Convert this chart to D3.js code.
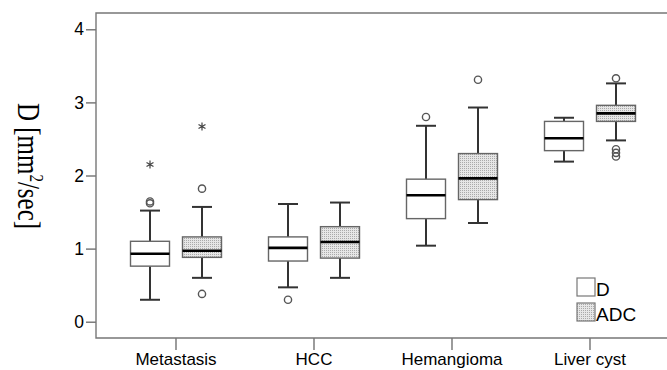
<!DOCTYPE html>
<html>
<head>
<meta charset="utf-8">
<script src="https://cdn.jsdelivr.net/npm/d3@7"></script>
<style>
  body { margin: 0; background: #fff; }
  svg { display: block; }
  .tick text { font-family: "Liberation Sans", Arial, sans-serif; fill: #000; }
</style>
</head>
<body>
<div id="chart"></div>
<script>
// values, [low whisker, Q1, median, Q3, high whisker]
const categories = ["Metastasis", "HCC", "Hemangioma", "Liver cyst"]
const series = ["D", "ADC"]
const dBoxes = [[0.30, 0.76, 0.93, 1.10, 1.52], [0.47, 0.83, 1.01, 1.16, 1.61], [1.04, 1.41, 1.73, 1.95, 2.68], [2.19, 2.34, 2.51, 2.74, 2.79]]
const adcBoxes = [[0.60, 0.88, 0.97, 1.16, 1.57], [0.60, 0.87, 1.09, 1.30, 1.63], [1.35, 1.67, 1.96, 2.30, 2.93], [2.48, 2.74, 2.85, 2.96, 3.26]]
const dOutliers = [[1.62, 1.645], [0.30], [2.80], []]
const adcOutliers = [[1.82, 0.38], [], [3.31], [3.33, 2.36, 2.31, 2.26]]
const dExtremes = [[2.15], [], [], []]
const adcExtremes = [[2.67], [], [], []]
const yTicks = [0, 1, 2, 3, 4]

const width = 667, height = 370
const plotLeft = 96, plotTop = 13, plotBottom = 338

const svg = d3.select('#chart').append('svg')
    .attr('width', width)
    .attr('height', height)

const defs = svg.append('defs')
const pat = defs.append('pattern')
    .attr('id', 'dots')
    .attr('width', 2).attr('height', 2)
    .attr('patternUnits', 'userSpaceOnUse')
pat.append('rect').attr('width', 2).attr('height', 2).attr('fill', '#e6e6e6')
pat.append('rect').attr('width', 1).attr('height', 1).attr('fill', '#aaa')

const y = d3.scaleLinear()
    .domain([0, 4])
    .range([321.7, 29.3])

const x = d3.scaleBand()
    .domain(categories)
    .range([107, 659])

const sub = d3.scalePoint()
    .domain(series)
    .range([-26, 26])

// y axis
const axisY = svg.append('g')
    .attr('transform', `translate(${plotLeft},0)`)
    .call(d3.axisLeft(y).tickValues(yTicks).tickSize(10).tickPadding(2).tickFormat(d3.format('d')))
axisY.select('.domain').remove()
axisY.selectAll('.tick line').attr('stroke', '#666').attr('stroke-width', 1.3)
axisY.selectAll('.tick text').attr('font-size', 17.5)

// x axis
const axisX = svg.append('g')
    .attr('transform', `translate(0,${plotBottom})`)
    .call(d3.axisBottom(x).tickSize(12).tickPadding(3))
axisX.select('.domain').remove()
axisX.selectAll('.tick line').attr('stroke', '#666').attr('stroke-width', 1.3)
axisX.selectAll('.tick text').attr('font-size', 17)

// frame
svg.append('path')
    .attr('d', `M${width},${plotTop}H${plotLeft}V${plotBottom}H${width}`)
    .attr('fill', 'none')
    .attr('stroke', '#777')
    .attr('stroke-width', 1.4)

// axis title
svg.append('text')
    .attr('transform', `translate(18,166) rotate(90) scale(1,1.3)`)
    .attr('text-anchor', 'middle')
    .attr('font-family', '"Liberation Serif", "Times New Roman", serif')
    .attr('font-size', 25)
    .attr('fill', '#000')
    .html('D [mm<tspan dy="-9" font-size="15">2</tspan><tspan dy="9">/sec]</tspan>')

const boxW = 39, capW = 20

function drawSeries(name, boxes, outliers, extremes, fill) {
    const g = svg.append('g')
    boxes.forEach((b, i) => {
        const cx = x(categories[i]) + x.bandwidth() / 2 + sub(name)
        const [lo, q1, med, q3, hi] = b
        const bg = g.append('g')
        bg.append('line').attr('x1', cx).attr('x2', cx).attr('y1', y(hi)).attr('y2', y(q3))
            .attr('stroke', '#333').attr('stroke-width', 2)
        bg.append('line').attr('x1', cx).attr('x2', cx).attr('y1', y(q1)).attr('y2', y(lo))
            .attr('stroke', '#333').attr('stroke-width', 2)
        bg.append('line').attr('x1', cx - capW / 2).attr('x2', cx + capW / 2).attr('y1', y(hi)).attr('y2', y(hi))
            .attr('stroke', '#333').attr('stroke-width', 2)
        bg.append('line').attr('x1', cx - capW / 2).attr('x2', cx + capW / 2).attr('y1', y(lo)).attr('y2', y(lo))
            .attr('stroke', '#333').attr('stroke-width', 2)
        bg.append('rect')
            .attr('x', cx - boxW / 2).attr('width', boxW)
            .attr('y', y(q3)).attr('height', y(q1) - y(q3))
            .attr('fill', fill).attr('stroke', '#666').attr('stroke-width', 1.4)
        bg.append('line').attr('x1', cx - boxW / 2).attr('x2', cx + boxW / 2).attr('y1', y(med)).attr('y2', y(med))
            .attr('stroke', '#000').attr('stroke-width', 2.6)

        bg.selectAll('circle').data(outliers[i]).enter().append('circle')
            .attr('cx', cx).attr('cy', d => y(d)).attr('r', 3.6)
            .attr('fill', 'none').attr('stroke', '#555').attr('stroke-width', 1.4)
        bg.selectAll('.ext').data(extremes[i]).enter().append('path')
            .attr('class', 'ext')
            .attr('transform', d => `translate(${cx},${y(d)})`)
            .attr('d', d3.symbol().type(d3.symbolAsterisk).size(45))
            .attr('fill', 'none').attr('stroke', '#444').attr('stroke-width', 1.2)
    })
}

drawSeries('D', dBoxes, dOutliers, dExtremes, '#fff')
drawSeries('ADC', adcBoxes, adcOutliers, adcExtremes, 'url(#dots)')

// legend
const legend = svg.append('g').attr('transform', 'translate(577,278)')
series.forEach((s, i) => {
    legend.append('rect')
        .attr('x', 0).attr('y', i * 25)
        .attr('width', 18).attr('height', 18)
        .attr('fill', i === 0 ? '#fff' : 'url(#dots)')
        .attr('stroke', '#777').attr('stroke-width', 1.2)
    legend.append('text')
        .attr('x', 19).attr('y', i * 25 + 18)
        .attr('font-family', '"Liberation Sans", Arial, sans-serif')
        .attr('font-size', 19)
        .text(s)
})
</script>
</body>
</html>
